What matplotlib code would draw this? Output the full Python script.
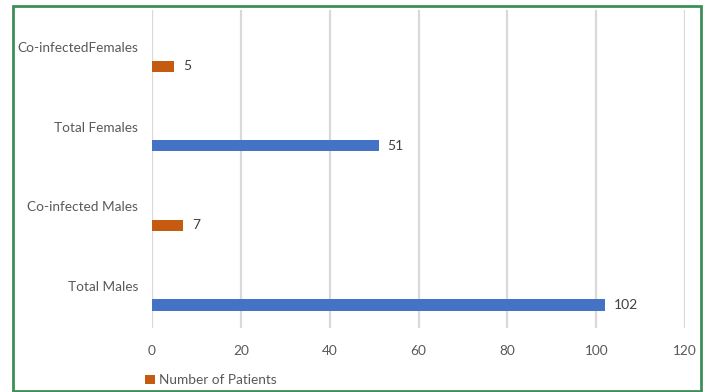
import numpy as np
import matplotlib.pyplot as plt
from matplotlib.patches import Patch, Rectangle

plt.rcParams['font.family'] = ['Lato', 'DejaVu Sans']

# categories from bottom to top
categories = ['Total Males', 'Co-infected Males', 'Total Females', 'Co-infectedFemales']
patients = [102, 7, 51, 5]
bar_colors = ['#4472C4', '#C55A11', '#4472C4', '#C55A11']
x_ticks = [0, 20, 40, 60, 80, 100, 120]

fig = plt.figure(figsize=(7.1, 3.92), dpi=100)
ax = fig.add_axes([0.214, 0.163, 0.751, 0.812])

ypos = np.arange(len(categories))
offset = 0.21
bars = ax.barh(ypos - offset, patients, height=0.14, color=bar_colors, zorder=3)

for b, v in zip(bars, patients):
    ax.text(b.get_width() + 2.0, b.get_y() + b.get_height() / 2, str(v),
            va='center', ha='left', fontsize=10, color='#404040')

ax.set_xlim(0, 120)
ax.set_ylim(-0.5, len(categories) - 0.5)
ax.set_xticks(x_ticks)
ax.set_yticks(ypos + 0.03)
ax.set_yticklabels(categories)
ax.tick_params(axis='both', length=0, labelsize=9.8, colors='#595959')
ax.tick_params(axis='x', pad=12)
ax.tick_params(axis='y', pad=10)
ax.xaxis.grid(True, color='#d9d9d9', linewidth=1.6)
ax.set_axisbelow(True)
for s in ax.spines.values():
    s.set_visible(False)

handle = Patch(facecolor='#C55A11', edgecolor='none')
fig.legend([handle], ['Number of Patients'], loc='center', bbox_to_anchor=(0.297, 0.03),
           frameon=False, fontsize=9.8, labelcolor='#595959',
           handlelength=0.7, handleheight=0.7, handletextpad=0.3)

# green frame around the figure
fig.patches.append(Rectangle((0.019, 0.003), 0.969, 0.982, transform=fig.transFigure,
                             fill=False, edgecolor='#3d8f5a', linewidth=2))

fig.savefig('out.png', dpi=100)
